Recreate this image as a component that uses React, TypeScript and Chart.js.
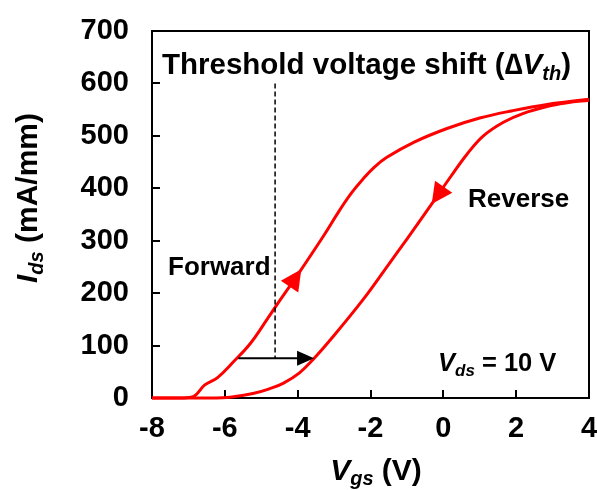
import { useEffect, useRef } from 'react';
import { Chart, registerables } from 'chart.js';

Chart.register(...registerables);

const FONT = '"Liberation Sans", Arial, Helvetica, sans-serif';
const RED = '#ff0000';

// Transfer curves: gate voltage (V) and drain current (mA/mm)
const forwardVgs = [-8, -7.2, -6.85, -6.55, -6.2, -5.75, -5.3, -4.85, -4.48, -4.0, -3.3, -2.85, -2.5, -2.2, -1.9, -1.55, -0.8, 0.1, 1.0, 1.9, 2.85, 4.0];
const forwardIds = [0, 0, 3, 25, 39, 70, 104, 149, 187, 235, 308, 358, 393, 418, 440, 459, 488, 514, 534, 548, 560, 570];

const reverseVgs = [-8, -6.5, -5.8, -5.2, -4.8, -4.4, -3.95, -3.57, -3.1, -2.2, -1.5, -1.0, -0.4, 0.2, 0.65, 1.1, 1.65, 2.2, 2.85, 3.4, 4.0];
const reverseIds = [0, 0, 2, 9, 17, 28, 48, 74, 111, 188, 255, 303, 362, 422, 465, 500, 526, 543, 556, 563, 568];

const xTickValues = [-8, -6, -4, -2, 0, 2, 4];
const yTickValues = [0, 100, 200, 300, 400, 500, 600, 700];

// Threshold shift marker (V, mA/mm)
const shiftStartV = -5.63;
const shiftEndV = -3.55;
const shiftLevel = 76;
const markerV = -4.62;
const markerTop = 600;

// Sweep-direction arrows: gate voltage of each arrow tip
const forwardArrowV = -3.9;
const reverseArrowV = -0.32;

type Part = { t: string; it?: boolean; sub?: boolean };

function drawRich(
  ctx: CanvasRenderingContext2D,
  parts: Part[],
  x: number,
  y: number,
  size: number,
  align: 'left' | 'center' | 'right',
  subShift = 0.2
) {
  const fontOf = (p: Part) =>
    `${p.it ? 'italic ' : ''}bold ${p.sub ? Math.round(size * 0.68) : size}px ${FONT}`;
  let total = 0;
  for (const p of parts) {
    ctx.font = fontOf(p);
    total += ctx.measureText(p.t).width;
  }
  let cx = align === 'left' ? x : align === 'center' ? x - total / 2 : x - total;
  ctx.textAlign = 'left';
  ctx.textBaseline = 'alphabetic';
  for (const p of parts) {
    ctx.font = fontOf(p);
    ctx.fillText(p.t, cx, y + (p.sub ? size * subShift : 0));
    cx += ctx.measureText(p.t).width;
  }
}

function interp(xs: number[], ys: number[], v: number) {
  for (let i = 0; i < xs.length - 1; i++) {
    if (v >= xs[i] && v <= xs[i + 1]) {
      const f = (v - xs[i]) / (xs[i + 1] - xs[i]);
      return ys[i] + f * (ys[i + 1] - ys[i]);
    }
  }
  return ys[ys.length - 1];
}

export default function App() {
  const canvasRef = useRef<HTMLCanvasElement | null>(null);

  useEffect(() => {
    const canvas = canvasRef.current;
    if (!canvas) return;

    const annotations = {
      id: 'annotations',
      beforeDatasetsDraw(chart: any) {
        const { ctx, chartArea: a, scales } = chart;
        const xs = scales.x;
        const ys = scales.y;
        ctx.save();
        ctx.strokeStyle = '#000';
        ctx.lineWidth = 2;
        ctx.strokeRect(a.left, a.top, a.right - a.left, a.bottom - a.top);
        // inward tick marks
        ctx.beginPath();
        for (const v of yTickValues.slice(1, -1)) {
          const py = Math.round(ys.getPixelForValue(v));
          ctx.moveTo(a.left, py);
          ctx.lineTo(a.left + 8, py);
        }
        for (const v of xTickValues.slice(1, -1)) {
          const px = Math.round(xs.getPixelForValue(v));
          ctx.moveTo(px, a.bottom);
          ctx.lineTo(px, a.bottom - 8);
        }
        ctx.stroke();
        ctx.restore();
      },
      afterDatasetsDraw(chart: any) {
        const { ctx, chartArea: a, scales } = chart;
        const xs = scales.x;
        const ys = scales.y;
        const px = (v: number) => xs.getPixelForValue(v);
        const py = (v: number) => ys.getPixelForValue(v);
        ctx.save();

        // dashed marker line
        ctx.strokeStyle = '#000';
        ctx.lineWidth = 1.5;
        ctx.setLineDash([5, 3]);
        ctx.beginPath();
        ctx.moveTo(px(markerV), py(markerTop));
        ctx.lineTo(px(markerV), py(shiftLevel));
        ctx.stroke();
        ctx.setLineDash([]);

        // horizontal shift arrow
        const y0 = py(shiftLevel);
        const xStart = px(shiftStartV);
        const xEnd = px(shiftEndV);
        ctx.lineWidth = 2;
        ctx.beginPath();
        ctx.moveTo(xStart, y0);
        ctx.lineTo(xEnd - 10, y0);
        ctx.stroke();
        ctx.fillStyle = '#000';
        ctx.beginPath();
        ctx.moveTo(xEnd, y0);
        ctx.lineTo(xEnd - 17, y0 - 7.5);
        ctx.lineTo(xEnd - 17, y0 + 7.5);
        ctx.closePath();
        ctx.fill();

        // sweep direction arrowheads
        const head = (vx: number[], vy: number[], v: number, dir: number) => {
          const tx = px(v);
          const ty = py(interp(vx, vy, v));
          const bv = v - dir * 0.15;
          const bx = px(bv);
          const by = py(interp(vx, vy, bv));
          let dx = tx - bx;
          let dy = ty - by;
          const len = Math.hypot(dx, dy) || 1;
          dx /= len;
          dy /= len;
          const L = 21;
          const W = 21;
          const cx = tx - dx * L;
          const cy = ty - dy * L;
          ctx.fillStyle = RED;
          ctx.beginPath();
          ctx.moveTo(tx, ty);
          ctx.lineTo(cx - dy * W / 2, cy + dx * W / 2);
          ctx.lineTo(cx + dy * W / 2, cy - dx * W / 2);
          ctx.closePath();
          ctx.fill();
        };
        head(forwardVgs, forwardIds, forwardArrowV, 1);
        head(reverseVgs, reverseIds, reverseArrowV, -1);

        // labels
        ctx.fillStyle = '#000';
        drawRich(
          ctx,
          [{ t: 'Threshold voltage shift (' }, { t: '∆', it: true }, { t: 'V', it: true }, { t: 'th', it: true, sub: true }, { t: ')' }],
          a.left + 10,
          74,
          29.5,
          'left'
        );
        drawRich(ctx, [{ t: 'Forward' }], 168, 275, 26, 'left');
        drawRich(ctx, [{ t: 'Reverse' }], 468, 207, 26, 'left');
        drawRich(
          ctx,
          [{ t: 'V', it: true }, { t: 'ds', it: true, sub: true }, { t: ' = 10 V' }],
          438,
          371,
          25.5,
          'left'
        );

        // axis titles
        drawRich(
          ctx,
          [{ t: 'V', it: true }, { t: 'gs', it: true, sub: true }, { t: ' (V)' }],
          376,
          480,
          30,
          'center',
          0.16
        );
        ctx.translate(37, 198);
        ctx.rotate(-Math.PI / 2);
        drawRich(
          ctx,
          [{ t: 'I', it: true }, { t: 'ds', it: true, sub: true }, { t: ' (mA/mm)' }],
          0,
          0,
          30,
          'center'
        );
        ctx.restore();
      },
    };

    const tickFont = { family: FONT, size: 29, weight: 'bold' as const };

    const curve = (label: string, xs: number[], ys: number[]) => ({
      label,
      data: xs.map((v, i) => ({ x: v, y: ys[i] })),
      showLine: true,
      borderColor: RED,
      borderWidth: 3,
      pointRadius: 0,
      tension: 0.4,
      clip: 4,
    });

    const chart = new Chart(canvas, {
      type: 'scatter',
      data: {
        datasets: [
          curve('Forward', forwardVgs, forwardIds),
          curve('Reverse', reverseVgs, reverseIds),
        ],
      },
      options: {
        animation: false,
        responsive: false,
        events: [],
        layout: { padding: { top: 31, right: 8, left: 0, bottom: 0 } },
        plugins: {
          legend: { display: false },
          tooltip: { enabled: false },
        },
        scales: {
          x: {
            type: 'linear',
            min: -8,
            max: 4,
            afterBuildTicks: (s: any) => {
              s.ticks = xTickValues.map((v) => ({ value: v }));
            },
            ticks: { font: tickFont, color: '#000', padding: 14, maxRotation: 0 },
            grid: { display: false, drawTicks: false },
            border: { display: false },
            afterFit: (s: any) => {
              s.height = 92;
              s.paddingLeft = 0;
              s.paddingRight = 0;
            },
          },
          y: {
            type: 'linear',
            min: 0,
            max: 700,
            afterBuildTicks: (s: any) => {
              s.ticks = yTickValues.map((v) => ({ value: v }));
            },
            ticks: { font: tickFont, color: '#000', padding: 23 },
            grid: { display: false, drawTicks: false },
            border: { display: false },
            afterFit: (s: any) => {
              s.width = 152;
              s.paddingTop = 0;
              s.paddingBottom = 0;
            },
          },
        },
      } as any,
      plugins: [annotations],
    });

    return () => chart.destroy();
  }, []);

  return (
    <div style={{ position: 'absolute', left: 0, top: 0, width: 597, height: 490, background: '#fff' }}>
      <canvas ref={canvasRef} width={597} height={490} style={{ display: 'block' }} />
    </div>
  );
}
